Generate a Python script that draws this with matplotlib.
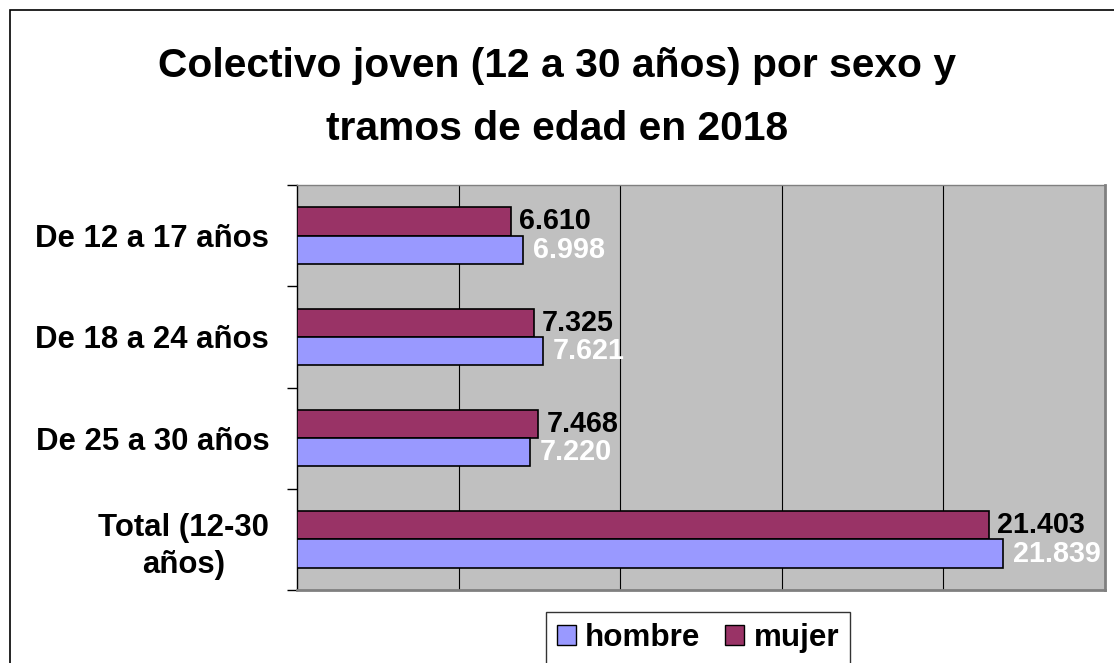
import matplotlib.pyplot as plt
from matplotlib.patches import Patch, Rectangle

# Data
categorias = ['De 12 a 17 años', 'De 18 a 24 años', 'De 25 a 30 años', 'Total (12-30\naños)']
hombre = [6998, 7621, 7220, 21839]
mujer = [6610, 7325, 7468, 21403]

c_hombre = '#9999FF'
c_mujer = '#993366'

plt.rcParams['font.family'] = ['Liberation Sans', 'DejaVu Sans']
plt.rcParams['font.weight'] = 'bold'


def fmt(v):
    # Spanish thousands separator
    return f'{v:,}'.replace(',', '.')


fig = plt.figure(figsize=(11.14, 6.63), dpi=100)
ax = fig.add_axes([297 / 1114, 1 - 590 / 663, 808 / 1114, 405 / 663])

# outer frame of the chart
fig.patches.append(Rectangle((10 / 1114, -0.1), 1.2, 1 - 10 / 663 + 0.1,
                             transform=fig.transFigure, fill=False,
                             edgecolor='black', linewidth=1.2))

ax.set_facecolor('#C0C0C0')
y = list(range(len(categorias)))
h = 0.28
ax.barh([i - 0.14 for i in y], mujer, height=h, color=c_mujer,
        edgecolor='black', linewidth=1.2, zorder=3)
ax.barh([i + 0.14 for i in y], hombre, height=h, color=c_hombre,
        edgecolor='black', linewidth=1.2, zorder=3)

for i in y:
    ax.annotate(fmt(mujer[i]), (mujer[i], i - 0.14), xytext=(6, 0),
                textcoords='offset points', va='center', ha='left',
                fontsize=20.7, fontweight='bold', color='black', zorder=4)
    ax.annotate(fmt(hombre[i]), (hombre[i], i + 0.14), xytext=(7, 0),
                textcoords='offset points', va='center', ha='left',
                fontsize=20.7, fontweight='bold', color='white', zorder=4)

ax.set_xlim(0, 25000)
ax.set_ylim(3.5, -0.5)
ax.set_xticks([5000, 10000, 15000, 20000])
ax.tick_params(axis='x', length=0, labelbottom=False)
ax.grid(axis='x', color='black', linewidth=0.8, zorder=1)

ax.set_yticks(y)
ax.set_yticklabels(categorias, fontsize=22.4, fontweight='bold', ha='right',
                   multialignment='center', linespacing=1.3)
ax.set_yticks([-0.5, 0.5, 1.5, 2.5, 3.5], minor=True)
ax.tick_params(axis='y', which='major', length=0, pad=20)
ax.tick_params(axis='y', which='minor', length=7, width=1, color='black')

ax.spines['left'].set_color('black')
ax.spines['left'].set_linewidth(1)
ax.spines['top'].set_color('#808080')
ax.spines['top'].set_linewidth(1)
ax.spines['right'].set_color('#808080')
ax.spines['right'].set_linewidth(2)
ax.spines['bottom'].set_color('#808080')
ax.spines['bottom'].set_linewidth(2)

fig.text(0.5, 1 - 77 / 663, 'Colectivo joven (12 a 30 años) por sexo y',
         ha='center', va='baseline', fontsize=29.3, fontweight='bold')
fig.text(0.5, 1 - 140 / 663, 'tramos de edad en 2018',
         ha='center', va='baseline', fontsize=29.3, fontweight='bold')

handles = [Patch(facecolor=c_hombre, edgecolor='black', label='hombre'),
           Patch(facecolor=c_mujer, edgecolor='black', label='mujer')]
leg = fig.legend(handles=handles, loc='upper center', bbox_to_anchor=(698 / 1114, 1 - 612 / 663),
                 ncol=2, frameon=True, fancybox=False, fontsize=22.6,
                 handlelength=0.6, handleheight=0.6, handletextpad=0.3,
                 columnspacing=0.8, borderpad=0.35, borderaxespad=0)
leg.get_frame().set_edgecolor('black')
leg.get_frame().set_linewidth(1)
for t in leg.get_texts():
    t.set_fontweight('bold')

fig.savefig('out.png', dpi=100)
